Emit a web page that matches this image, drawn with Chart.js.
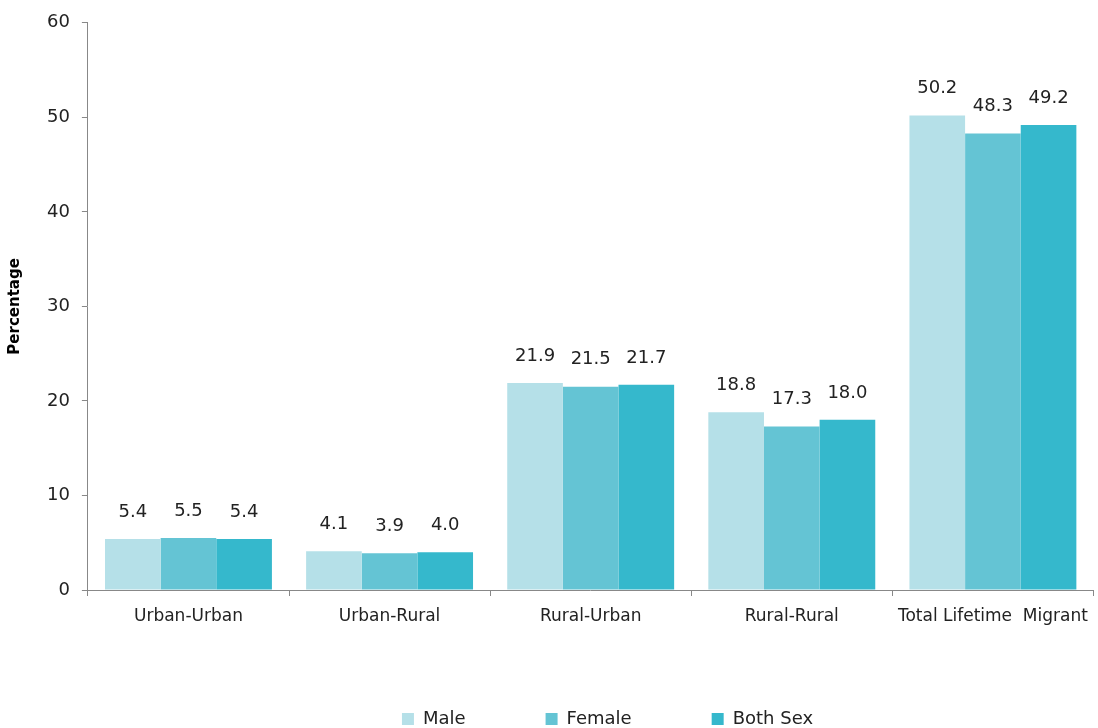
<!DOCTYPE html>
<html>
<head>
<meta charset="utf-8">
<script src="https://cdn.jsdelivr.net/npm/chart.js@4"></script>
<style>
  html, body { margin: 0; padding: 0; background: #fff; }
  #wrap { width: 1098px; height: 728px; }
</style>
</head>
<body>
<div id="wrap"><canvas id="chart"></canvas></div>
<script>
var categories = ["Urban-Urban", "Urban-Rural", "Rural-Urban", "Rural-Rural", "Total Lifetime  Migrant"];
var male = [5.4, 4.1, 21.9, 18.8, 50.2];
var female = [5.5, 3.9, 21.5, 17.3, 48.3];
var bothSex = [5.4, 4.0, 21.7, 18.0, 49.2];
var seriesNames = ["Male", "Female", "Both Sex"];
var colors = ["#b5e0e8", "#64c4d4", "#35b8cc"];

var font = "'DejaVu Sans', Verdana, sans-serif";

// draw the value above every bar
var valueLabels = {
    id: "valueLabels",
    afterDatasetsDraw(chart) {
        var ctx = chart.ctx;
        ctx.save();
        ctx.font = "18px " + font;
        ctx.fillStyle = "#222";
        ctx.textAlign = "center";
        ctx.textBaseline = "middle";
        chart.data.datasets.forEach((ds, i) => {
            chart.getDatasetMeta(i).data.forEach((bar, j) => {
                ctx.fillText(ds.data[j].toFixed(1), bar.x, bar.y - 27);
            });
        });
        ctx.restore();
    }
};

// the legend in the original sits right of centre
var shiftLegend = {
    id: "shiftLegend",
    afterLayout(chart) {
        chart.legend.left += 112;
    }
};

var data = { labels: categories, datasets: [] };
[male, female, bothSex].forEach((values, index) => {
    data.datasets.push({
        label: seriesNames[index],
        data: values,
        backgroundColor: colors[index],
        borderWidth: 0,
        barPercentage: 1.0,
        categoryPercentage: 0.83
    });
});

new Chart("chart", {
    type: "bar",
    data: data,
    plugins: [valueLabels, shiftLegend],
    options: {
        responsive: true,
        maintainAspectRatio: false,
        animation: false,
        layout: { padding: { left: 6, right: 1, top: 11, bottom: -10 } },
        plugins: {
            tooltip: { enabled: false },
            legend: {
                position: "bottom",
                labels: {
                    boxWidth: 12,
                    boxHeight: 12,
                    padding: 80,
                    color: "#222",
                    font: { family: font, size: 18 }
                }
            }
        },
        scales: {
            x: {
                afterFit(scale) { scale.height = 40; },
                grid: { display: true, drawOnChartArea: false, offset: true, tickLength: 6, color: "#888" },
                border: { color: "#888" },
                ticks: { color: "#222", font: { family: font, size: 17 }, padding: 10 }
            },
            y: {
                min: 0,
                max: 60,
                grid: { drawOnChartArea: false, tickLength: 6, color: "#888" },
                border: { color: "#888" },
                ticks: { stepSize: 10, color: "#222", font: { family: font, size: 18 }, padding: 12 },
                title: {
                    display: true,
                    text: "Percentage",
                    color: "#000",
                    font: { family: font, size: 15, weight: "bold" },
                    padding: { top: 0, bottom: 11 }
                }
            }
        }
    }
});
</script>
</body>
</html>
